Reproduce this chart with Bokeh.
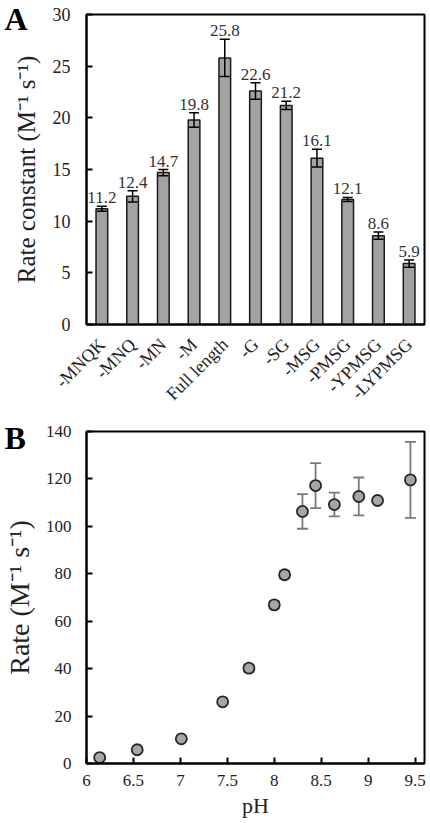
from bokeh.plotting import figure
from bokeh.layouts import column
from bokeh.models import (ColumnDataSource, Whisker, TeeHead, FactorRange, Range1d,
                          FixedTicker, NumeralTickFormatter)
from bokeh.embed import file_html
from bokeh.resources import INLINE
from bokeh.core.properties import value

# Panel A: rate constants of the truncation variants
variants = ["-MNQK", "-MNQ", "-MN", "-M", "Full length", "-G", "-SG",
            "-MSG", "-PMSG", "-YPMSG", "-LYPMSG"]
rate_const = [11.2, 12.4, 14.7, 19.8, 25.8, 22.6, 21.2, 16.1, 12.1, 8.6, 5.9]
rate_err = [0.25, 0.55, 0.3, 0.7, 1.8, 0.8, 0.4, 0.85, 0.2, 0.35, 0.35]
a_ticks = [0, 5, 10, 15, 20, 25, 30]

# Panel B: pH dependence of the rate
ph = [6.14, 6.54, 7.01, 7.45, 7.73, 8.00, 8.11, 8.30, 8.44, 8.64, 8.90, 9.10, 9.45]
rate = [2.5, 5.8, 10.4, 26.0, 40.2, 66.9, 79.6, 106.3, 117.2, 109.2, 112.6, 110.9, 119.6]
rate_sd = [0.5, 0.6, 0.8, 1.0, 1.5, 1.5, 1.5, 7.3, 9.5, 5.0, 8.0, 1.0, 16.0]
b_xticks = [6, 6.5, 7, 7.5, 8, 8.5, 9, 9.5]
b_yticks = [0, 20, 40, 60, 80, 100, 120, 140]

SERIF = "Liberation Serif"
TXT = "#222222"


def style_axes(p, tick_size):
    for ax in (p.xaxis[0], p.yaxis[0]):
        ax.axis_line_color = "black"
        ax.axis_line_width = 2
        ax.major_tick_line_color = "black"
        ax.major_tick_line_width = 2
        ax.major_tick_in = 6
        ax.major_tick_out = 0
        ax.minor_tick_line_color = None
        ax.major_label_text_font = SERIF
        ax.major_label_text_font_size = tick_size
        ax.major_label_text_color = TXT
        ax.axis_label_text_font = SERIF
        ax.axis_label_text_font_style = "normal"
        ax.axis_label_text_color = TXT
    p.xgrid.grid_line_color = None
    p.ygrid.grid_line_color = None
    p.outline_line_color = "black"
    p.outline_line_width = 2
    p.outline_line_alpha = 1


def panel_letter(p, letter, standoff):
    # the plot title doubles as the bold panel letter at the top-left corner
    p.title.text = letter
    p.title.align = "left"
    p.title.vertical_align = "bottom"
    p.title.offset = -82
    p.title.standoff = standoff
    p.title.text_font = SERIF
    p.title.text_font_size = "32px"
    p.title.text_font_style = "bold"
    p.title.text_color = "black"


# ---------------- Panel A ----------------
pa = figure(width=430, height=415, x_range=FactorRange(*variants, range_padding=0),
            y_range=Range1d(0, 30), output_backend="svg", toolbar_location=None,
            min_border_left=83, min_border_right=4, min_border_top=14,
            min_border_bottom=91)
pa.x_range.factor_padding = 0
style_axes(pa, "18px")
panel_letter(pa, "A", -44)

src_a = ColumnDataSource(dict(
    x=variants, top=rate_const,
    upper=[v + e for v, e in zip(rate_const, rate_err)],
    lower=[v - e for v, e in zip(rate_const, rate_err)],
    lab=[f"{v:.1f}" for v in rate_const],
))
pa.vbar(x="x", top="top", width=0.38, source=src_a, fill_color="#a3a3a3",
        line_color="#1a1a1a", line_width=1.5)
pa.add_layout(Whisker(source=src_a, base="x", upper="upper", lower="lower",
                      line_color="black", line_width=1.5, level="overlay",
                      upper_head=TeeHead(size=10, line_color="black", line_width=1.5),
                      lower_head=TeeHead(size=10, line_color="black", line_width=1.5)))
pa.text(x="x", y="upper", text="lab", source=src_a, text_align="center",
        text_baseline="bottom", y_offset=-3, text_font=value(SERIF),
        text_font_size="17px", text_color="#333333")

pa.yaxis.ticker = FixedTicker(ticks=a_ticks)
pa.yaxis.axis_label = "Rate constant (M\u207b\u00b9 s\u207b\u00b9)"
pa.yaxis.axis_label_text_font_size = "25px"
pa.yaxis.major_label_standoff = 16
pa.yaxis.axis_label_standoff = 10
pa.xaxis.major_tick_line_color = None
pa.xaxis.major_label_orientation = 0.785
pa.xaxis.major_label_text_font_size = "18px"
pa.xaxis.major_label_standoff = 17

# ---------------- Panel B ----------------
pb = figure(width=430, height=408, x_range=Range1d(6, 9.6), y_range=Range1d(0, 140),
            output_backend="svg", toolbar_location=None,
            min_border_left=83, min_border_right=6, min_border_top=16,
            min_border_bottom=60)
style_axes(pb, "17px")
panel_letter(pb, "B", -48)

src_b = ColumnDataSource(dict(
    x=ph, y=rate,
    upper=[v + e for v, e in zip(rate, rate_sd)],
    lower=[v - e for v, e in zip(rate, rate_sd)],
))
pb.add_layout(Whisker(source=src_b, base="x", upper="upper", lower="lower",
                      dimension="height", line_color="#7a7a7a", line_width=1.8,
                      level="underlay",
                      upper_head=TeeHead(size=11, line_color="#7a7a7a", line_width=1.8),
                      lower_head=TeeHead(size=11, line_color="#7a7a7a", line_width=1.8)))
pb.scatter(x="x", y="y", source=src_b, size=11, fill_color="#a6a6a6",
           line_color="#262626", line_width=1.8)

pb.xaxis.ticker = FixedTicker(ticks=b_xticks)
pb.xaxis.formatter = NumeralTickFormatter(format="0.[0]")
pb.yaxis.ticker = FixedTicker(ticks=b_yticks)
pb.xaxis.axis_label = "pH"
pb.yaxis.axis_label = "Rate (M\u207b\u00b9 s\u207b\u00b9)"
pb.xaxis.axis_label_text_font_size = "22px"
pb.yaxis.axis_label_text_font_size = "28px"
pb.xaxis.major_label_standoff = 11
pb.yaxis.major_label_standoff = 15
pb.yaxis.axis_label_standoff = 8
pb.xaxis.axis_label_standoff = 4

layout = column(pa, pb, spacing=0)
open("out.html", "w").write(file_html(layout, INLINE))
